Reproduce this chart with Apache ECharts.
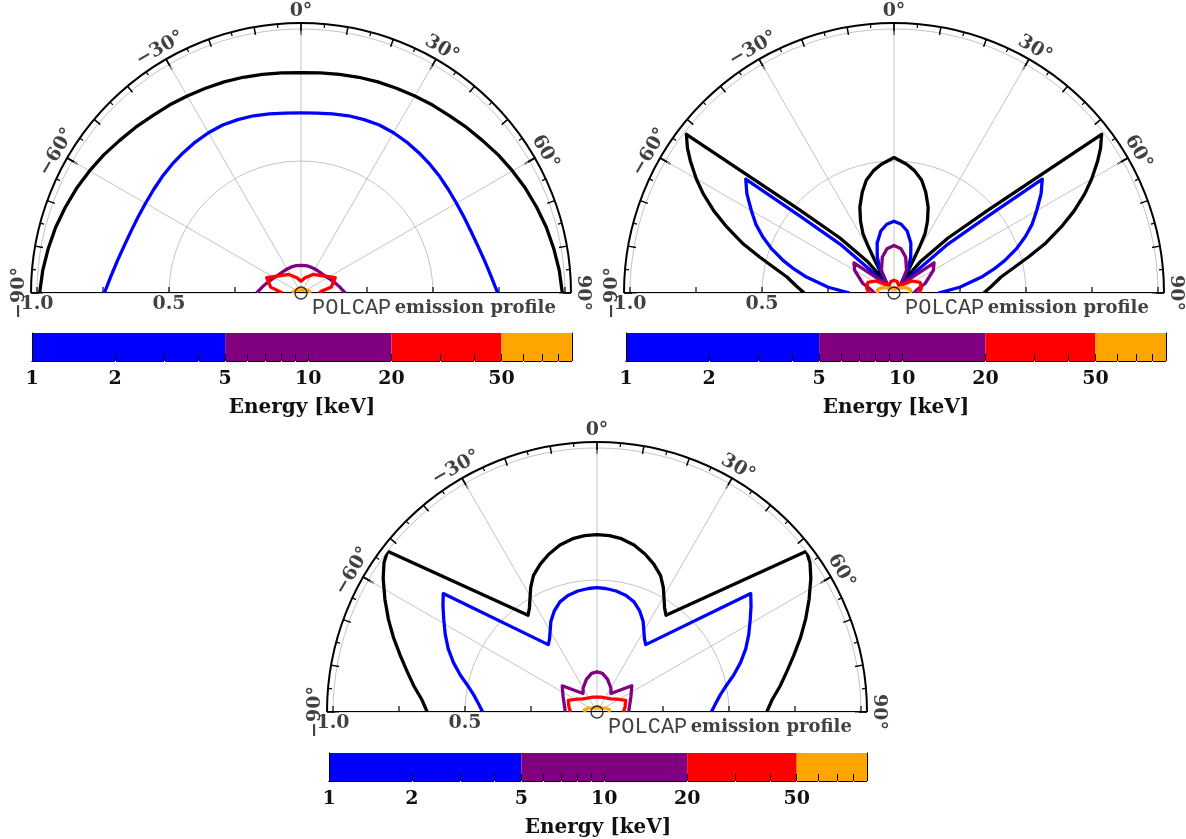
<!DOCTYPE html>
<html>
<head>
<meta charset="utf-8">
<title>POLCAP emission profile</title>
<script src="https://cdn.jsdelivr.net/npm/echarts@6/dist/echarts.min.js"></script>
<style>
    html, body { margin: 0; padding: 0; background: #fff; }
    #chart { width: 1186px; height: 839px; }
</style>
</head>
<body>
<div id="chart"></div>
<script>
// angles in degrees, 0 = up, -90 = left; radius normalised to 1
const angleTicks = [-90, -60, -30, 0, 30, 60, 90];
const radiusTicks = [0.25, 0.5, 0.75, 1.0];
const radiusLabels = [0.5, 1.0];
const energyLabels = [1, 2, 5, 10, 20, 50];
const energyTicks = [2, 3, 4, 5, 6, 7, 8, 9, 10, 20, 30, 40, 50, 60, 70, 80, 90];
const energyBands = [[1, 5], [5, 20], [20, 50], [50, 90]];

// left half of every profile as [angle, r]; the profiles are symmetric about 0
const p1Black  = [[-90,0.99],[-85,0.982],[-80,0.972],[-75,0.962],[-70,0.95],[-65,0.938],[-60,0.925],[-55,0.912],[-50,0.898],[-45,0.887],
                  [-40,0.876],[-35,0.869],[-30,0.862],[-25,0.856],[-20,0.851],[-15,0.846],[-10,0.841],[-5,0.837],[0,0.835]];
const p1Blue   = [[-90,0.745],[-85,0.723],[-80,0.706],[-75,0.693],[-70,0.685],[-65,0.681],[-60,0.68],[-55,0.682],[-50,0.686],[-45,0.69],
                  [-40,0.694],[-35,0.698],[-30,0.701],[-25,0.702],[-20,0.699],[-15,0.695],[-10,0.689],[-5,0.684],[0,0.682]];
const p1Purple = [[-90,0.168],[-86,0.158],[-81,0.148],[-75,0.137],[-67,0.125],[-60,0.116],[-50,0.109],[-40,0.106],[-30,0.105],[-20,0.105],[-10,0.105],[0,0.105]];
const p1Red    = [[-90,0.07],[-86,0.075],[-79,0.117],[-66,0.142],[-33,0.084],[-15,0.06],[0,0.045]];
const p1Orange = [[-90,0.033],[-80,0.034],[-65,0.025],[-40,0.015],[0,0.012]];

const p2Black  = [[-90,0.34],[-86,0.37],[-81.5,0.41],[-78,0.465],[-75,0.527],[-72,0.6],[-68.5,0.68],[-65.5,0.75],[-62.5,0.815],[-60,0.865],[-57,0.92],[-55,0.955],[-52.6,0.99],
                  [-48.6,0.475],[-44.5,0.292],[-40,0.153],[-38,0.05],
                  [-33,0.09],[-30.5,0.144],[-29,0.2],[-27.6,0.254],[-25,0.3],[-21.7,0.35],[-17.5,0.4],[-13.8,0.44],[-9.5,0.47],[-5.6,0.49],[0,0.513]];
const p2Blue   = [[-90,0.168],[-85,0.25],[-79.7,0.337],[-76.5,0.39],[-73.6,0.438],[-70,0.495],[-66.9,0.54],[-63.5,0.585],[-59.9,0.625],[-56,0.672],[-52.5,0.708],
                  [-50.7,0.46],[-47.8,0.276],[-46.1,0.137],[-42,0.03],
                  [-33,0.07],[-31,0.1],[-25,0.15],[-18.6,0.2],[-12,0.24],[-6,0.262],[0,0.272]];
const p2Purple = [[-90,0.075],[-83,0.085],[-73,0.123],[-60,0.172],[-53,0.19],[-39,0.04],[-29,0.098],[-18,0.143],[-9,0.17],[0,0.18]];
const p2Red    = [[-90,0.095],[-80,0.105],[-68,0.107],[-55,0.08],[-42,0.04],[-30,0.035],[-15,0.045],[0,0.048]];
const p2Orange = [[-90,0.062],[-80,0.064],[-70,0.055],[-55,0.035],[-35,0.02],[0,0.018]];

const p3Black  = [[-90,0.643],[-86,0.665],[-82,0.7],[-78,0.735],[-74,0.775],[-70,0.82],[-66,0.865],[-62,0.91],[-58,0.955],[-55,0.985],[-52.5,1.0],
                  [-35.5,0.45],[-33,0.47],[-30.5,0.5],[-28,0.535],[-25,0.57],[-21,0.6],[-17,0.625],[-12.5,0.648],[-8,0.663],[-4,0.67],[0,0.672]];
const p3Blue   = [[-90,0.433],[-86,0.45],[-82,0.472],[-79,0.495],[-75,0.535],[-71,0.575],[-67,0.612],[-63,0.645],[-59,0.677],[-55.5,0.708],[-52.4,0.735],
                  [-35.9,0.315],[-33,0.33],[-30,0.355],[-27,0.385],[-23,0.415],[-18.6,0.44],[-14,0.455],[-9,0.464],[-4,0.469],[0,0.471]];
const p3Purple = [[-90,0.12],[-80,0.125],[-65,0.142],[-53,0.165],[-37,0.088],[-30,0.105],[-18,0.13],[-8,0.148],[0,0.152]];
const p3Red    = [[-90,0.1],[-80,0.108],[-68,0.117],[-57,0.09],[-47,0.073],[-30,0.062],[-15,0.058],[0,0.056]];
const p3Orange = [[-90,0.045],[-80,0.048],[-65,0.035],[-40,0.02],[0,0.018]];

const curveColors = ['#000000', '#0000ff', '#800080', '#ff0000', '#ffa500'];
const bandColors = ['#0000ff', '#800080', '#ff0000', '#ffa500'];

const panels = [
    { center: [301, 293], bar: { left: 32, top: 333, width: 540 }, curves: [p1Black, p1Blue, p1Purple, p1Red, p1Orange] },
    { center: [894, 293], bar: { left: 626, top: 333, width: 540 }, curves: [p2Black, p2Blue, p2Purple, p2Red, p2Orange] },
    { center: [597, 712], bar: { left: 329, top: 753, width: 538 }, curves: [p3Black, p3Blue, p3Purple, p3Red, p3Orange] }
];

const R1 = 264;       // pixels for r = 1
const RF = 270;       // frame radius
const RL = 282;       // angle label radius
const frameMax = RF / R1;

const serif = 'DejaVu Serif';
const txt = '#111';

function mirror(half) {
    const right = half.slice(0, -1).reverse().map(p => [-p[0], p[1]]);
    return half.concat(right).map(p => [p[1], p[0]]);
}
function fmtAngle(a) {
    return (a < 0 ? '\u2212' + (-a) : String(a)) + '\u00b0';
}

const polar = [], angleAxis = [], radiusAxis = [], grid = [], xAxis = [], yAxis = [], series = [];
const hidden = { show: false };

panels.forEach((p, i) => {
    const a = i * 4, b = a + 1, c = a + 2, d = a + 3;
    polar.push({ center: p.center, radius: R1 });
    polar.push({ center: p.center, radius: RF });
    polar.push({ center: p.center, radius: RF });
    polar.push({ center: p.center, radius: RL });
    const baseAngle = { type: 'value', min: -90, max: 90, startAngle: 180, endAngle: 0, clockwise: true, axisLabel: hidden };
    const bareRadius = { type: 'value', min: 0, axisLine: hidden, axisTick: hidden, axisLabel: hidden, splitLine: hidden };
    // data polar: grey circles at 0.5 and 1.0
    angleAxis.push(Object.assign({}, baseAngle, { polarIndex: a, interval: 30, axisLine: hidden, axisTick: hidden, splitLine: hidden }));
    radiusAxis.push(Object.assign({}, bareRadius, { polarIndex: a, max: 1, interval: 0.5,
        splitLine: { show: true, lineStyle: { color: '#c4c4c4', width: 1 } } }));
    // frame, long ticks every 30 and spokes
    angleAxis.push(Object.assign({}, baseAngle, { polarIndex: b, interval: 30,
        axisLine: { show: true, lineStyle: { color: '#000', width: 2 } },
        axisTick: { show: true, inside: true, length: 12, lineStyle: { color: '#000', width: 1.5 } },
        splitLine: { show: true, lineStyle: { color: '#c4c4c4', width: 1 } } }));
    radiusAxis.push(Object.assign({}, bareRadius, { polarIndex: b, max: frameMax }));
    // 10 and 5 degree ticks
    angleAxis.push(Object.assign({}, baseAngle, { polarIndex: c, interval: 10, axisLine: hidden,
        axisTick: { show: true, inside: true, length: 8, lineStyle: { color: '#000', width: 1.5 } },
        minorTick: { show: true, splitNumber: 2, length: 4, lineStyle: { color: '#000', width: 1.2 } },
        splitLine: hidden }));
    radiusAxis.push(Object.assign({}, bareRadius, { polarIndex: c, max: frameMax }));
    // angle label ring
    angleAxis.push(Object.assign({}, baseAngle, { polarIndex: d, interval: 30, axisLine: hidden, axisTick: hidden, splitLine: hidden }));
    radiusAxis.push(Object.assign({}, bareRadius, { polarIndex: d, max: 1 }));

    // baseline through the centre
    series.push({ type: 'line', coordinateSystem: 'polar', polarIndex: b, silent: true, showSymbol: false, z: 3,
        data: [[frameMax, -90], [0, -90], [0, 90], [frameMax, 90]],
        lineStyle: { color: '#000', width: 2 } });
    series.push({ type: 'scatter', coordinateSystem: 'polar', polarIndex: a, silent: true, z: 3,
        symbol: 'rect', symbolSize: [1.5, 6], symbolOffset: [0, -3], itemStyle: { color: '#000' },
        data: radiusTicks.flatMap(r => [[r, -90], [r, 90]]) });

    // profiles
    p.curves.forEach((cv, k) => {
        series.push({ type: 'line', coordinateSystem: 'polar', polarIndex: a, silent: true, showSymbol: false, z: 4,
            data: mirror(cv), lineStyle: { color: curveColors[k], width: 3.3, join: 'round' } });
    });
    series.push({ type: 'scatter', coordinateSystem: 'polar', polarIndex: a, silent: true, z: 6,
        symbol: 'circle', symbolSize: 12, data: [[0, 0]],
        itemStyle: { color: 'rgba(255,255,255,0)', borderColor: '#000', borderWidth: 1.3 } });

    // angle labels
    series.push({ type: 'scatter', coordinateSystem: 'polar', polarIndex: d, silent: true, symbolSize: 0, z: 5,
        data: angleTicks.map(t => ({ value: [1, t], label: { rotate: -t } })),
        label: { show: true, position: 'inside', formatter: q => fmtAngle(q.value[1]),
            fontFamily: serif, fontWeight: 'bold', fontSize: 19, color: txt, align: 'center', verticalAlign: 'middle' } });
    // radial labels
    series.push({ type: 'scatter', coordinateSystem: 'polar', polarIndex: a, silent: true, symbolSize: 0, z: 5,
        data: radiusLabels.map(r => [r, -90]),
        label: { show: true, position: 'bottom', distance: 2, formatter: q => q.value[0].toFixed(1),
            fontFamily: serif, fontWeight: 'bold', fontSize: 19, color: txt } });
    // caption
    series.push({ type: 'scatter', coordinateSystem: 'polar', polarIndex: a, silent: true, symbolSize: 0, z: 5,
        data: [[0.042, 90]],
        label: { show: true, position: [0, 4], align: 'left', verticalAlign: 'top',
            formatter: '{m|POLCAP} {b|emission profile}',
            rich: {
                m: { fontFamily: 'Liberation Mono', fontSize: 22, color: txt },
                b: { fontFamily: serif, fontWeight: 'bold', fontSize: 18, color: txt }
            } } });

    // colour bar
    grid.push({ left: p.bar.left, top: p.bar.top, width: p.bar.width, height: 28 });
    const logBase = { type: 'log', logBase: 10, min: 1, max: 90, gridIndex: i, z: 5, splitLine: hidden };
    xAxis.push(Object.assign({}, logBase, { position: 'bottom',
        axisLine: { show: true, lineStyle: { color: '#000', width: 1 } },
        axisTick: { show: true, inside: true, length: 7, customValues: energyTicks, lineStyle: { color: '#000', width: 1 } },
        axisLabel: { show: true, customValues: energyLabels, margin: 9, fontFamily: serif, fontWeight: 'bold', fontSize: 19, color: txt },
        name: 'Energy [keV]', nameLocation: 'middle', nameGap: 37,
        nameTextStyle: { fontFamily: serif, fontWeight: 'bold', fontSize: 20, color: txt } }));
    xAxis.push(Object.assign({}, logBase, { position: 'top',
        axisLine: { show: true, lineStyle: { color: '#000', width: 1 } },
        axisTick: { show: true, inside: true, length: 8, customValues: energyTicks, lineStyle: { color: '#fff', width: 1.2 } },
        axisLabel: hidden }));
    yAxis.push({ type: 'value', min: 0, max: 1, gridIndex: i, position: 'left', z: 5,
        axisLine: { show: true, lineStyle: { color: '#000', width: 1 } }, axisTick: hidden, axisLabel: hidden, splitLine: hidden });
    yAxis.push({ type: 'value', min: 0, max: 1, gridIndex: i, position: 'right', z: 5,
        axisLine: { show: true, lineStyle: { color: '#000', width: 1 } }, axisTick: hidden, axisLabel: hidden, splitLine: hidden });
    series.push({ type: 'custom', xAxisIndex: i * 2, yAxisIndex: i * 2, silent: true, z: 1,
        data: energyBands.map((e, k) => [e[0], e[1], k]),
        encode: { x: [0, 1] },
        renderItem: (params, api) => {
            const s = api.coord([api.value(0), 1]);
            const e = api.coord([api.value(1), 0]);
            return { type: 'rect', shape: { x: s[0], y: s[1], width: e[0] - s[0], height: e[1] - s[1] },
                style: { fill: bandColors[api.value(2)] } };
        } });
});

const chart = echarts.init(document.getElementById('chart'));
chart.setOption({
    animation: false,
    backgroundColor: '#fff',
    polar, angleAxis, radiusAxis, grid, xAxis, yAxis, series
});
</script>
</body>
</html>
